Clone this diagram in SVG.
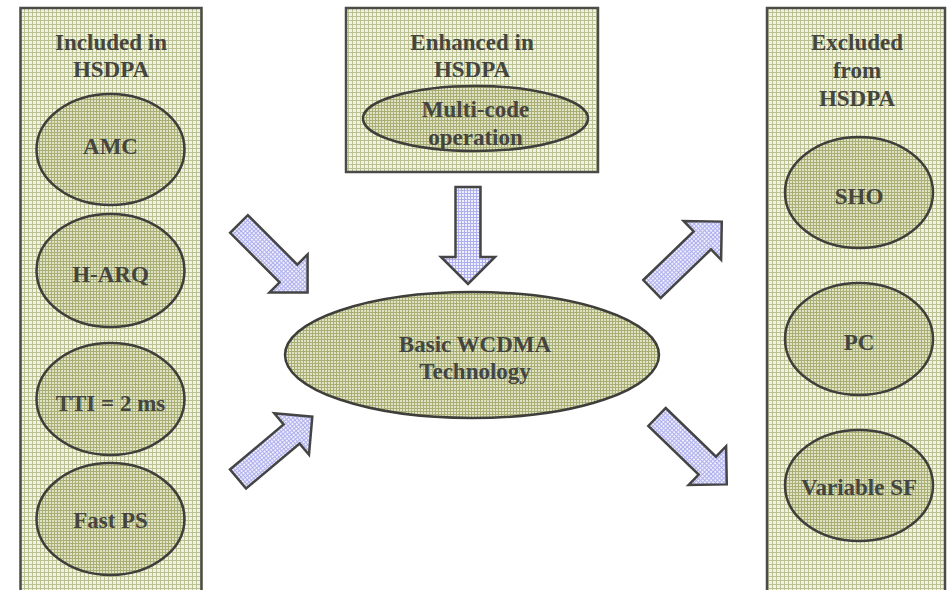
<svg xmlns="http://www.w3.org/2000/svg" width="948" height="590" viewBox="0 0 948 590">
  <defs>
    <!-- light olive grid used for the panels -->
    <pattern id="gridPanel" width="4" height="4" patternUnits="userSpaceOnUse">
      <rect width="4" height="4" fill="#f0f2e4"/>
      <rect width="4" height="1" fill="#bcc192"/>
      <rect width="1" height="4" fill="#bcc192"/>
    </pattern>
    <!-- denser olive grid used for the ellipses -->
    <pattern id="gridOval" width="3" height="3" patternUnits="userSpaceOnUse">
      <rect width="3" height="3" fill="#e0e2c6"/>
      <rect width="3" height="1" fill="#a8ae74"/>
      <rect width="1" height="3" fill="#a8ae74"/>
    </pattern>
    <!-- lavender grid used for the arrows -->
    <pattern id="gridArrow" width="3" height="3" patternUnits="userSpaceOnUse">
      <rect width="3" height="3" fill="#efeffd"/>
      <rect width="3" height="1" fill="#afafee"/>
      <rect width="1" height="3" fill="#afafee"/>
    </pattern>
    <!-- block arrow pointing along +x, tail centre at origin, length 97 -->
    <polygon id="blockArrow" points="0,-12.5 70,-12.5 70,-27 97,0 70,27 70,12.5 0,12.5"/>
  </defs>
  <style>
    .panel { fill: url(#gridPanel); stroke: #4b4b47; stroke-width: 2.5; }
    .oval { fill: url(#gridOval); stroke: #3e3e3a; stroke-width: 2.5; }
    .arrow { fill: url(#gridArrow); stroke: #454545; stroke-width: 2.5; stroke-linejoin: miter; }
    text { font-family: "Liberation Serif", "Times New Roman", serif; font-weight: bold; font-size: 23px; fill: #454540; text-anchor: middle; }
  </style>

  <rect width="948" height="590" fill="#ffffff"/>

  <!-- Included in HSDPA -->
  <g id="included">
    <rect class="panel" x="20.5" y="8" width="181" height="600"/>
    <text x="111" y="50">Included in</text>
    <text x="111" y="77">HSDPA</text>
  </g>
  <g id="amc">
    <ellipse class="oval" cx="110.5" cy="149.5" rx="74" ry="55.5"/>
    <text x="110.5" y="154">AMC</text>
  </g>
  <g id="harq">
    <ellipse class="oval" cx="110.5" cy="270.5" rx="74" ry="56.5"/>
    <text x="110.5" y="282">H-ARQ</text>
  </g>
  <g id="tti">
    <ellipse class="oval" cx="110.5" cy="399" rx="74" ry="56"/>
    <text x="110.5" y="411">TTI = 2 ms</text>
  </g>
  <g id="fastps">
    <ellipse class="oval" cx="110.5" cy="519" rx="74" ry="56"/>
    <text x="110.5" y="528">Fast PS</text>
  </g>

  <!-- Enhanced in HSDPA -->
  <g id="enhanced">
    <rect class="panel" x="346" y="8" width="252" height="164"/>
    <text x="472" y="50">Enhanced in</text>
    <text x="472" y="77">HSDPA</text>
  </g>
  <g id="multicode">
    <ellipse class="oval" cx="475.5" cy="118.5" rx="112.5" ry="32.5"/>
    <text x="475.5" y="117">Multi-code</text>
    <text x="475.5" y="145">operation</text>
  </g>

  <!-- Core technology -->
  <g id="wcdma">
    <ellipse class="oval" cx="472" cy="355" rx="187" ry="63"/>
    <text x="475" y="352">Basic WCDMA</text>
    <text x="475" y="379">Technology</text>
  </g>

  <!-- Excluded from HSDPA -->
  <g id="excluded">
    <rect class="panel" x="767" y="8" width="178" height="600"/>
    <text x="857" y="50">Excluded</text>
    <text x="857" y="78">from</text>
    <text x="857" y="106">HSDPA</text>
  </g>
  <g id="sho">
    <ellipse class="oval" cx="859" cy="192.5" rx="74" ry="55.5"/>
    <text x="859" y="204">SHO</text>
  </g>
  <g id="pc">
    <ellipse class="oval" cx="859" cy="339" rx="74" ry="56"/>
    <text x="859" y="350">PC</text>
  </g>
  <g id="varsf">
    <ellipse class="oval" cx="859" cy="485.5" rx="74" ry="55.5"/>
    <text x="859" y="495">Variable SF</text>
  </g>

  <!-- Block arrows -->
  <g id="connectors">
    <use href="#blockArrow" class="arrow" transform="translate(239,224) rotate(45)"/>
    <use href="#blockArrow" class="arrow" transform="translate(238,479) rotate(-40)"/>
    <use href="#blockArrow" class="arrow" transform="translate(468,187) rotate(90)"/>
    <use href="#blockArrow" class="arrow" transform="translate(652,289) rotate(-44)"/>
    <use href="#blockArrow" class="arrow" transform="translate(657,417) rotate(44)"/>
  </g>
</svg>
